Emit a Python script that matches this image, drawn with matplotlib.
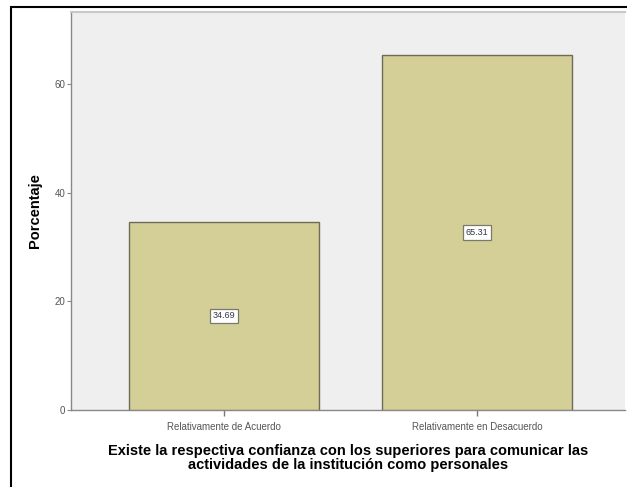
import numpy as np
import matplotlib.pyplot as plt
from matplotlib.patches import Rectangle

# Datos
categorias = ['Relativamente de Acuerdo', 'Relativamente en Desacuerdo']
porcentajes = [34.69, 65.31]
etiquetas = ['34.69', '65.31']
ticks_y = [0, 20, 40, 60]

plt.rcParams['font.family'] = ['Liberation Sans', 'DejaVu Sans']

fig = plt.figure(figsize=(6.27, 4.87), dpi=100)
ax = fig.add_axes([71/627, 77/487, 554/627, 398/487])
ax.set_facecolor('#efefef')

x = np.arange(len(categorias))
ax.bar(x, porcentajes, width=0.75, color='#d3cf96', edgecolor='#6e6c58', linewidth=1.0, zorder=3)

# etiquetas de valor en cajas blancas
for xi, v, txt in zip(x, porcentajes, etiquetas):
    ax.text(xi, v/2, txt, ha='center', va='center', fontsize=6.5, color='#333344', zorder=4,
            bbox=dict(boxstyle='square,pad=0.3', facecolor='white', edgecolor='#7a7a6a', linewidth=0.9))

ax.set_xlim(-0.605, 1.585)
ax.set_ylim(0, 73.3)
ax.set_yticks(ticks_y)
ax.set_xticks(x)
ax.set_xticklabels(categorias, fontsize=7, color='#555555')
ax.tick_params(axis='y', labelsize=7, labelcolor='#555555', color='#888888', length=3, width=0.8, pad=1)
ax.tick_params(axis='x', color='#777777', length=4, width=1.0, pad=5)

for lado in ['left', 'bottom']:
    ax.spines[lado].set_color('#888888')
    ax.spines[lado].set_linewidth(1.0)
ax.spines['top'].set_color('#c8c8c8')
ax.spines['top'].set_linewidth(1.5)
ax.spines['right'].set_visible(False)

ax.set_ylabel('Porcentaje', fontsize=10.5, fontweight='bold', labelpad=9)
ax.set_xlabel('Existe la respectiva confianza con los superiores para comunicar las\n'
              'actividades de la institución como personales',
              fontsize=10.5, fontweight='bold', linespacing=1.0, labelpad=8)

# marco negro exterior
fig.patches.append(Rectangle((11/627, -0.05), 1.0, (487-7)/487 + 0.05, transform=fig.transFigure,
                             fill=False, edgecolor='black', linewidth=1.5))

fig.savefig('out.png', dpi=100)
